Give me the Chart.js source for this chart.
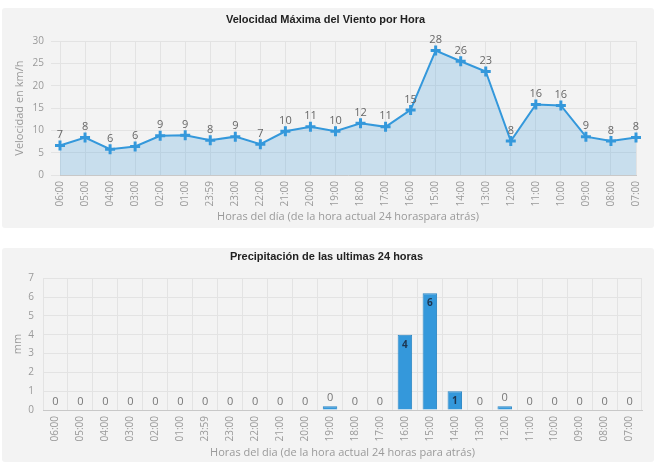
<!DOCTYPE html>
<html lang="es">
<head>
<meta charset="utf-8">
<title>Viento y precipitación</title>
<script src="https://cdn.jsdelivr.net/npm/chart.js@4.4.1/dist/chart.umd.min.js"></script>
<style>
  html, body { margin: 0; padding: 0; background: #fff; }
  .panel {
    position: absolute;
    left: 2px;
    width: 652px;
    background: #f3f3f3;
    border-radius: 3px;
  }
  #panelViento { top: 8px; height: 220px; }
  #panelLluvia { top: 248px; height: 214px; }
  canvas { display: block; }
</style>
</head>
<body>
<div class="panel" id="panelViento"><canvas id="vientoChart" width="652" height="220"></canvas></div>
<div class="panel" id="panelLluvia"><canvas id="lluviaChart" width="652" height="214"></canvas></div>

<script>
const horas = ["06:00", "05:00", "04:00", "03:00", "02:00", "01:00", "23:59", "23:00",
  "22:00", "21:00", "20:00", "19:00", "18:00", "17:00", "16:00", "15:00",
  "14:00", "13:00", "12:00", "11:00", "10:00", "09:00", "08:00", "07:00"];

// velocidad máxima del viento (km/h)
const viento = [6.6, 8.4, 5.8, 6.4, 8.8, 8.9, 7.8, 8.6, 6.9, 9.8, 10.8, 9.8,
  11.6, 10.8, 14.6, 27.9, 25.5, 23.2, 7.6, 15.8, 15.6, 8.6, 7.6, 8.4];

// precipitación (mm)
const lluvia = [0, 0, 0, 0, 0, 0, 0, 0, 0, 0, 0, 0.2,
  0, 0, 4, 6.2, 1, 0, 0.2, 0, 0, 0, 0, 0];

const vientoTicks = [0, 5, 10, 15, 20, 25, 30];
const lluviaTicks = [0, 1, 2, 3, 4, 5, 6, 7];

const azul = "#3498db";
const gris = "#9a9a9a";
const rejilla = "#e3e3e3";
const fuente = "'Open Sans', 'DejaVu Sans', sans-serif";

Chart.defaults.font.family = fuente;
Chart.defaults.color = gris;

// etiquetas de valor sobre cada punto / barra
const valorLinea = {
  id: "valorLinea",
  afterDatasetsDraw(chart) {
    const ctx = chart.ctx;
    const meta = chart.getDatasetMeta(0);
    ctx.save();
    ctx.font = "11px " + fuente;
    ctx.fillStyle = "#666";
    ctx.textAlign = "center";
    ctx.textBaseline = "bottom";
    meta.data.forEach((p, i) => {
      ctx.fillText(Math.round(viento[i]), p.x, p.y - 5);
    });
    ctx.restore();
  }
};

const valorBarra = {
  id: "valorBarra",
  afterDatasetsDraw(chart) {
    const ctx = chart.ctx;
    const meta = chart.getDatasetMeta(0);
    ctx.save();
    ctx.textAlign = "center";
    meta.data.forEach((b, i) => {
      const txt = Math.round(lluvia[i]);
      if (b.base - b.y > 12) {
        ctx.font = "bold 10px " + fuente;
        ctx.fillStyle = "#1d3550";
        ctx.textBaseline = "top";
        ctx.fillText(txt, b.x, b.y + 5);
      } else {
        ctx.font = "11px " + fuente;
        ctx.fillStyle = "#777";
        ctx.textBaseline = "bottom";
        ctx.fillText(txt, b.x, b.y - 3);
      }
    });
    ctx.restore();
  }
};

new Chart(document.getElementById("vientoChart"), {
  type: "line",
  data: {
    labels: horas,
    datasets: [{
      data: viento,
      borderColor: azul,
      borderWidth: 2,
      backgroundColor: "rgba(52, 152, 219, 0.22)",
      fill: "origin",
      tension: 0,
      pointStyle: "cross",
      pointRadius: 5,
      pointBorderWidth: 3,
      pointBorderColor: azul,
      pointBackgroundColor: azul
    }]
  },
  options: {
    responsive: false,
    animation: false,
    devicePixelRatio: 1,
    layout: { padding: { top: 0, right: 16, bottom: 0, left: 11 } },
    plugins: {
      legend: { display: false },
      tooltip: { enabled: false },
      title: {
        display: true,
        text: "Velocidad Máxima del Viento por Hora",
        color: "#222",
        font: { family: "'Liberation Sans', Arial, sans-serif", size: 11, weight: "bold" },
        padding: { top: 5, bottom: 15 }
      }
    },
    scales: {
      x: {
        grid: { color: rejilla, drawTicks: false },
        border: { color: "#c8c8c8" },
        ticks: { minRotation: 90, maxRotation: 90, autoSkip: false, padding: 6, font: { size: 10 } },
        title: {
          display: true,
          text: "Horas del día (de la hora actual 24 horaspara atrás)",
          color: gris,
          font: { size: 11 },
          padding: { top: 6, bottom: 5 }
        },
        afterFit: s => { s.height = 53; }
      },
      y: {
        min: 0,
        max: 30,
        afterBuildTicks: s => { s.ticks = vientoTicks.map(v => ({ value: v })); },
        grid: { color: rejilla, tickLength: 9 },
        border: { display: false },
        ticks: { padding: 7, font: { size: 10 } },
        title: {
          display: true,
          text: "Velocidad en km/h",
          color: gris,
          font: { size: 11 },
          padding: 0
        },
        afterFit: s => { s.width = 47; }
      }
    }
  },
  plugins: [valorLinea]
});

new Chart(document.getElementById("lluviaChart"), {
  type: "bar",
  data: {
    labels: horas,
    datasets: [{
      data: lluvia,
      backgroundColor: azul,
      borderColor: "#2a86c4",
      borderWidth: 1,
      barPercentage: 0.58,
      categoryPercentage: 1
    }]
  },
  options: {
    responsive: false,
    animation: false,
    devicePixelRatio: 1,
    layout: { padding: { top: 0, right: 12, bottom: 0, left: 9 } },
    plugins: {
      legend: { display: false },
      tooltip: { enabled: false },
      title: {
        display: true,
        text: "Precipitación de las ultimas 24 horas",
        color: "#222",
        font: { family: "'Liberation Sans', Arial, sans-serif", size: 11, weight: "bold" },
        padding: { top: 2, bottom: 15 }
      }
    },
    scales: {
      x: {
        grid: { color: rejilla, drawTicks: false, offset: true },
        border: { color: "#c8c8c8" },
        ticks: { minRotation: 90, maxRotation: 90, autoSkip: false, padding: 6, font: { size: 10 } },
        title: {
          display: true,
          text: "Horas del dia (de la hora actual 24 horas para atrás)",
          color: gris,
          font: { size: 11 },
          padding: { top: 6, bottom: 3 }
        },
        afterFit: s => { s.height = 52; }
      },
      y: {
        min: 0,
        max: 7,
        afterBuildTicks: s => { s.ticks = lluviaTicks.map(v => ({ value: v })); },
        grid: { color: rejilla, drawTicks: false },
        border: { display: false },
        ticks: { padding: 9, font: { size: 10 } },
        title: {
          display: true,
          text: "mm",
          color: gris,
          font: { size: 11 },
          padding: 0
        },
        afterFit: s => { s.width = 32; }
      }
    }
  },
  plugins: [valorBarra]
});
</script>
</body>
</html>
